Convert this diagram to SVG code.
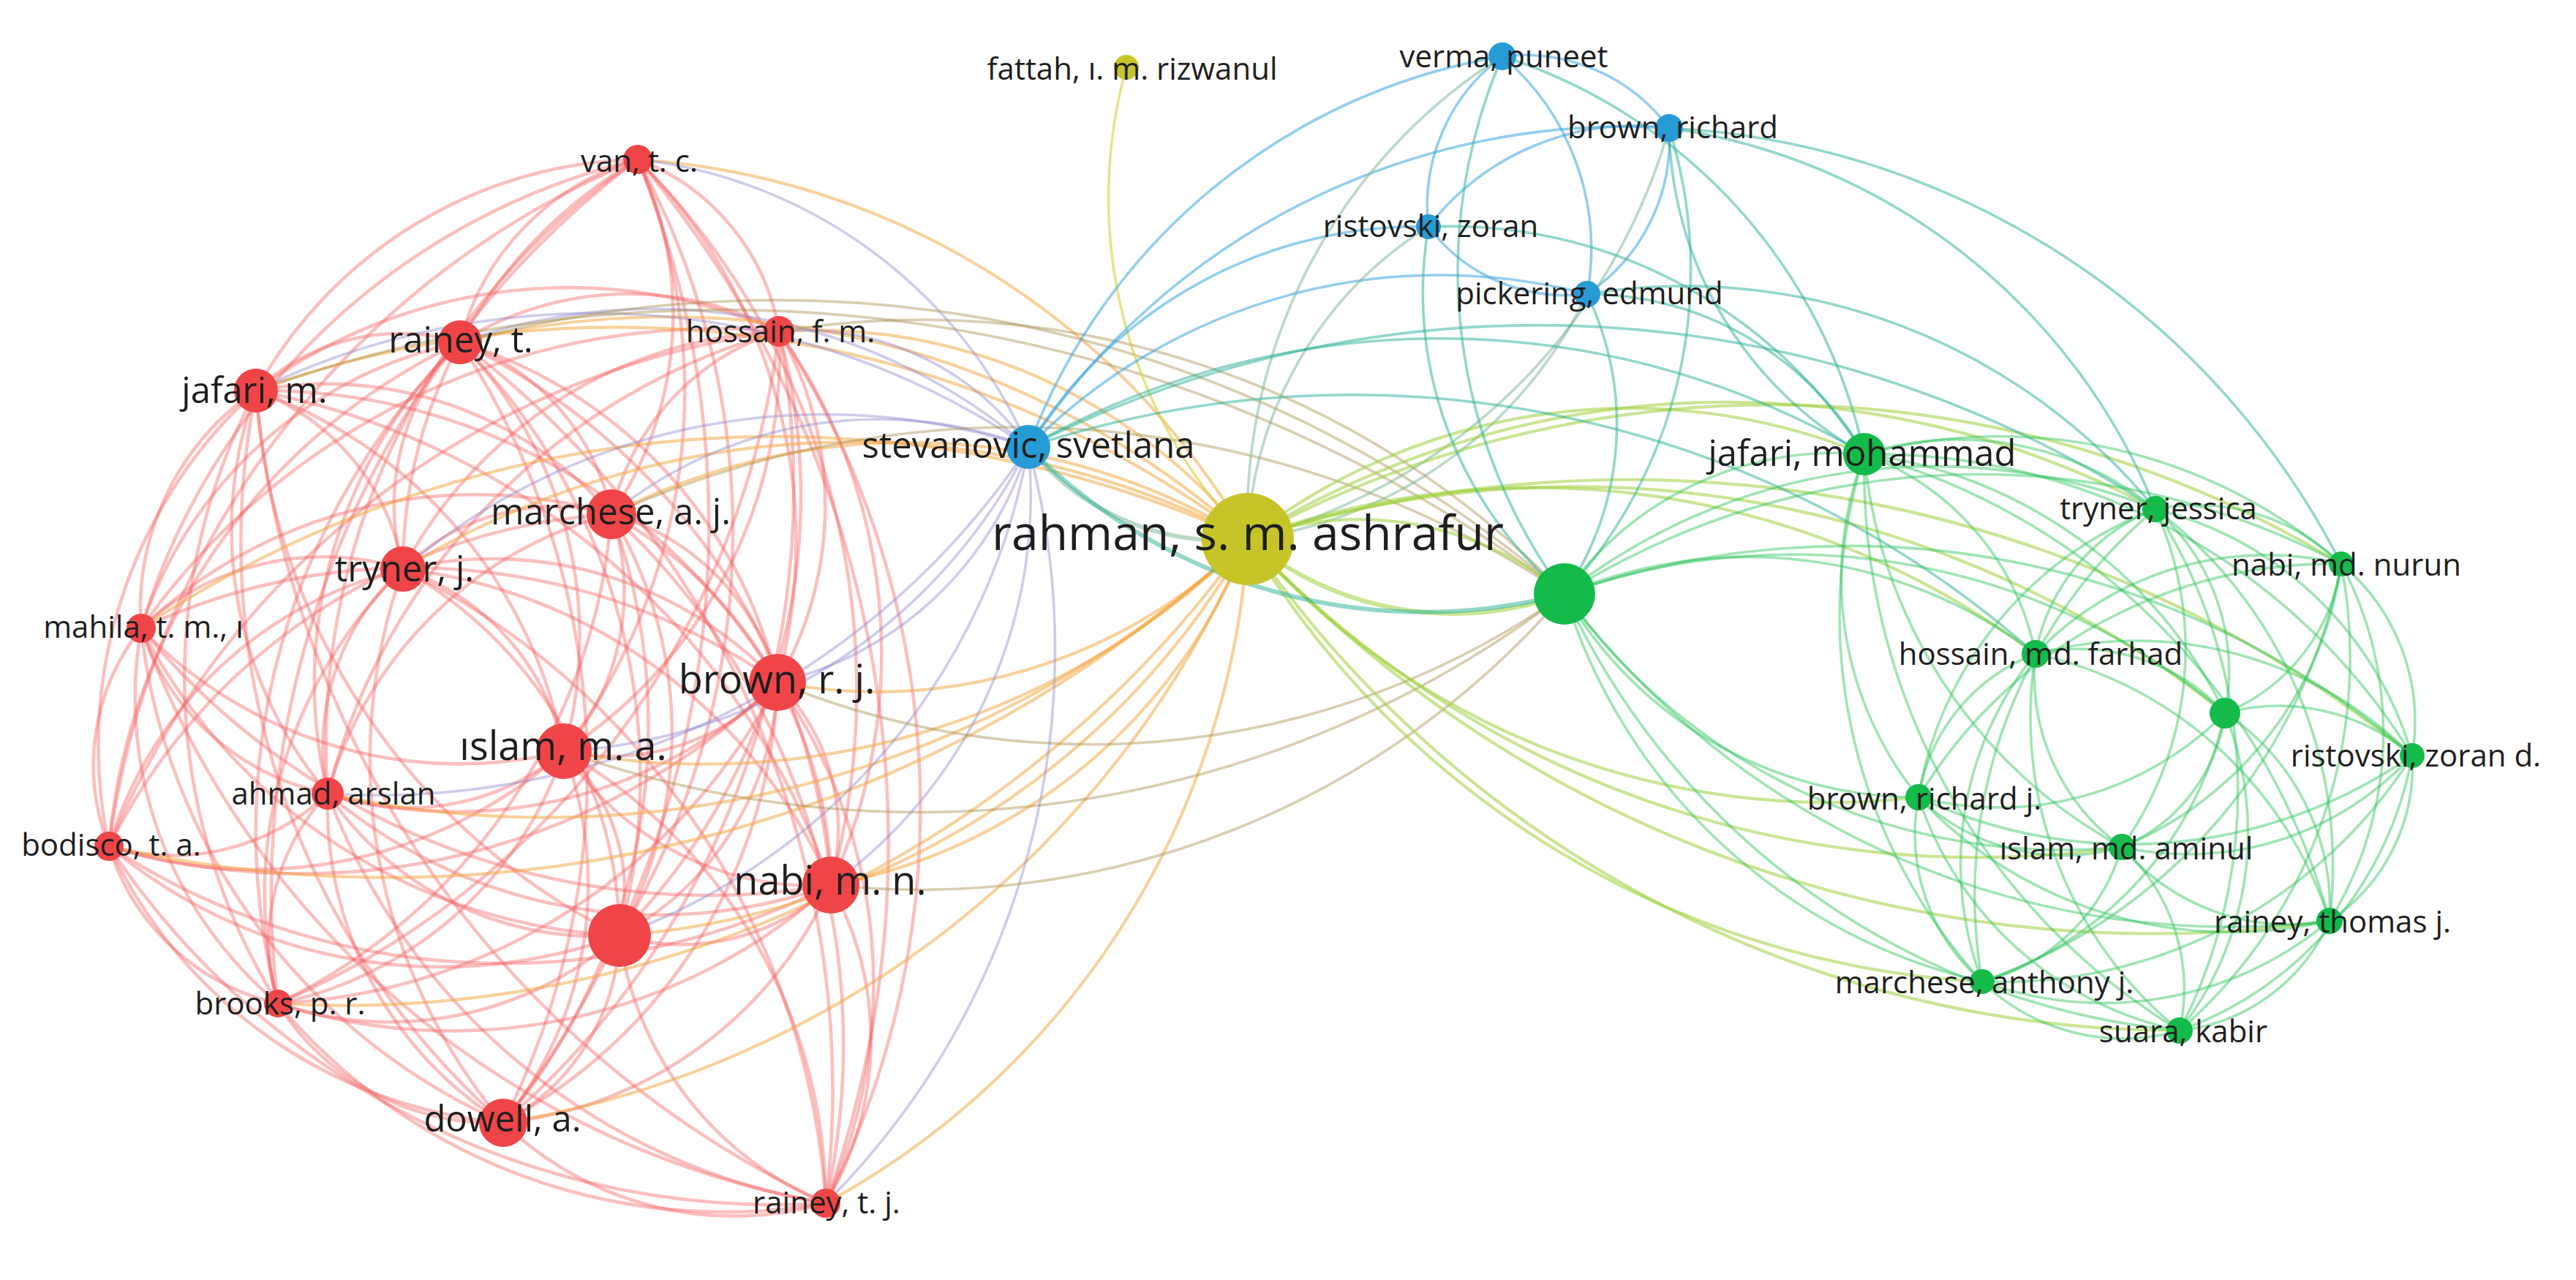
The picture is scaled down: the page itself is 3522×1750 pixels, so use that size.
<svg xmlns="http://www.w3.org/2000/svg" width="3522" height="1750" viewBox="0 0 3522 1750">
<style>
.e{fill:none;stroke-width:3.6;stroke-linecap:round}
.rr{stroke:#f65e5e;stroke-opacity:.4;stroke-width:4.6}
.ry{stroke:#f3a33a;stroke-opacity:.5;stroke-width:4.2}
.rb{stroke:#8c86cc;stroke-opacity:.42}
.rg{stroke:#a58a45;stroke-opacity:.42}
.yy{stroke:#d4d43a;stroke-opacity:.6}
.yb{stroke:#78b490;stroke-opacity:.5}
.yg{stroke:#9fd03c;stroke-opacity:.55;stroke-width:4.2}
.bb{stroke:#3aa5e0;stroke-opacity:.55}
.bg{stroke:#28b096;stroke-opacity:.5}
.gg{stroke:#2cc45a;stroke-opacity:.45}
.thick{stroke-width:6}
.nr{fill:#f04548}
.ny{fill:#c5c52a}
.nb{fill:#279bd6}
.ng{fill:#14bb4b}
text{font-family:"Open Sans","Noto Sans","DejaVu Sans",sans-serif;fill:#1e1e1e;text-anchor:middle}
.s{font-size:42px}
.m{font-size:49px}
.l{font-size:54px}
.xl{font-size:66px}
</style>
<rect width="3522" height="1750" fill="#ffffff"/>
<g id="connectors">
<g id="red-red">
<path class="e rr" d="M629 468 A349 349 0 0 1 872 218"/>
<path class="e rr" d="M872 218 A304 304 0 0 1 1065 453"/>
<path class="e rr" d="M350 534 A610 610 0 0 1 872 218"/>
<path class="e rr" d="M872 218 A486 486 0 0 1 836 703"/>
<path class="e rr" d="M551 778 A645 645 0 0 1 872 218"/>
<path class="e rr" d="M193 859 A934 934 0 0 1 872 218"/>
<path class="e rr" d="M872 218 A740 740 0 0 1 1063 933"/>
<path class="e rr" d="M872 218 A815 815 0 0 1 771 1027"/>
<path class="e rr" d="M448 1085 A965 965 0 0 1 872 218"/>
<path class="e rr" d="M149 1157 A1185 1185 0 0 1 872 218"/>
<path class="e rr" d="M872 218 A1027 1027 0 0 1 1136 1210"/>
<path class="e rr" d="M872 218 A1061 1061 0 0 1 847 1279"/>
<path class="e rr" d="M380 1372 A1254 1254 0 0 1 872 218"/>
<path class="e rr" d="M872 218 A1330 1330 0 0 1 688 1535"/>
<path class="e rr" d="M872 218 A1450 1450 0 0 1 1129 1645"/>
<path class="e rr" d="M629 468 A436 436 0 0 1 1065 453"/>
<path class="e rr" d="M350 534 A287 287 0 0 1 629 468"/>
<path class="e rr" d="M629 468 A313 313 0 0 1 836 703"/>
<path class="e rr" d="M551 778 A320 320 0 0 1 629 468"/>
<path class="e rr" d="M193 859 A586 586 0 0 1 629 468"/>
<path class="e rr" d="M629 468 A636 636 0 0 1 1063 933"/>
<path class="e rr" d="M629 468 A577 577 0 0 1 771 1027"/>
<path class="e rr" d="M448 1085 A643 643 0 0 1 629 468"/>
<path class="e rr" d="M149 1157 A840 840 0 0 1 629 468"/>
<path class="e rr" d="M629 468 A899 899 0 0 1 1136 1210"/>
<path class="e rr" d="M629 468 A840 840 0 0 1 847 1279"/>
<path class="e rr" d="M380 1372 A938 938 0 0 1 629 468"/>
<path class="e rr" d="M629 468 A1069 1069 0 0 1 688 1535"/>
<path class="e rr" d="M629 468 A1279 1279 0 0 1 1129 1645"/>
<path class="e rr" d="M350 534 A720 720 0 0 1 1065 453"/>
<path class="e rr" d="M836 703 A339 339 0 0 1 1065 453"/>
<path class="e rr" d="M551 778 A608 608 0 0 1 1065 453"/>
<path class="e rr" d="M193 859 A962 962 0 0 1 1065 453"/>
<path class="e rr" d="M1065 453 A480 480 0 0 1 1063 933"/>
<path class="e rr" d="M1065 453 A645 645 0 0 1 771 1027"/>
<path class="e rr" d="M448 1085 A883 883 0 0 1 1065 453"/>
<path class="e rr" d="M149 1157 A1155 1155 0 0 1 1065 453"/>
<path class="e rr" d="M1065 453 A760 760 0 0 1 1136 1210"/>
<path class="e rr" d="M1065 453 A854 854 0 0 1 847 1279"/>
<path class="e rr" d="M1065 453 A1146 1146 0 0 1 380 1372"/>
<path class="e rr" d="M1065 453 A1146 1146 0 0 1 688 1535"/>
<path class="e rr" d="M1065 453 A1194 1194 0 0 1 1129 1645"/>
<path class="e rr" d="M350 534 A515 515 0 0 1 836 703"/>
<path class="e rr" d="M350 534 A316 316 0 0 1 551 778"/>
<path class="e rr" d="M193 859 A361 361 0 0 1 350 534"/>
<path class="e rr" d="M350 534 A817 817 0 0 1 1063 933"/>
<path class="e rr" d="M350 534 A648 648 0 0 1 771 1027"/>
<path class="e rr" d="M448 1085 A560 560 0 0 1 350 534"/>
<path class="e rr" d="M149 1157 A655 655 0 0 1 350 534"/>
<path class="e rr" d="M350 534 A1037 1037 0 0 1 1136 1210"/>
<path class="e rr" d="M847 1279 A895 895 0 0 1 350 534"/>
<path class="e rr" d="M380 1372 A839 839 0 0 1 350 534"/>
<path class="e rr" d="M688 1535 A1057 1057 0 0 1 350 534"/>
<path class="e rr" d="M1129 1645 A1357 1357 0 0 1 350 534"/>
<path class="e rr" d="M551 778 A295 295 0 0 1 836 703"/>
<path class="e rr" d="M193 859 A662 662 0 0 1 836 703"/>
<path class="e rr" d="M836 703 A323 323 0 0 1 1063 933"/>
<path class="e rr" d="M836 703 A330 330 0 0 1 771 1027"/>
<path class="e rr" d="M448 1085 A545 545 0 0 1 836 703"/>
<path class="e rr" d="M149 1157 A823 823 0 0 1 836 703"/>
<path class="e rr" d="M836 703 A590 590 0 0 1 1136 1210"/>
<path class="e rr" d="M836 703 A576 576 0 0 1 847 1279"/>
<path class="e rr" d="M836 703 A810 810 0 0 1 380 1372"/>
<path class="e rr" d="M836 703 A845 845 0 0 1 688 1535"/>
<path class="e rr" d="M836 703 A987 987 0 0 1 1129 1645"/>
<path class="e rr" d="M193 859 A367 367 0 0 1 551 778"/>
<path class="e rr" d="M551 778 A535 535 0 0 1 1063 933"/>
<path class="e rr" d="M551 778 A332 332 0 0 1 771 1027"/>
<path class="e rr" d="M448 1085 A324 324 0 0 1 551 778"/>
<path class="e rr" d="M149 1157 A552 552 0 0 1 551 778"/>
<path class="e rr" d="M551 778 A727 727 0 0 1 1136 1210"/>
<path class="e rr" d="M551 778 A582 582 0 0 1 847 1279"/>
<path class="e rr" d="M380 1372 A618 618 0 0 1 551 778"/>
<path class="e rr" d="M688 1535 A770 770 0 0 1 551 778"/>
<path class="e rr" d="M551 778 A1042 1042 0 0 1 1129 1645"/>
<path class="e rr" d="M193 859 A873 873 0 0 1 1063 933"/>
<path class="e rr" d="M771 1027 A602 602 0 0 1 193 859"/>
<path class="e rr" d="M448 1085 A341 341 0 0 1 193 859"/>
<path class="e rr" d="M149 1157 A301 301 0 0 1 193 859"/>
<path class="e rr" d="M1136 1210 A1006 1006 0 0 1 193 859"/>
<path class="e rr" d="M847 1279 A777 777 0 0 1 193 859"/>
<path class="e rr" d="M380 1372 A546 546 0 0 1 193 859"/>
<path class="e rr" d="M688 1535 A838 838 0 0 1 193 859"/>
<path class="e rr" d="M1129 1645 A1222 1222 0 0 1 193 859"/>
<path class="e rr" d="M1063 933 A307 307 0 0 1 771 1027"/>
<path class="e rr" d="M1063 933 A634 634 0 0 1 448 1085"/>
<path class="e rr" d="M1063 933 A941 941 0 0 1 149 1157"/>
<path class="e rr" d="M1063 933 A286 286 0 0 1 1136 1210"/>
<path class="e rr" d="M1063 933 A408 408 0 0 1 847 1279"/>
<path class="e rr" d="M1063 933 A812 812 0 0 1 380 1372"/>
<path class="e rr" d="M1063 933 A709 709 0 0 1 688 1535"/>
<path class="e rr" d="M1063 933 A715 715 0 0 1 1129 1645"/>
<path class="e rr" d="M771 1027 A328 328 0 0 1 448 1085"/>
<path class="e rr" d="M771 1027 A635 635 0 0 1 149 1157"/>
<path class="e rr" d="M1136 1210 A408 408 0 0 1 771 1027"/>
<path class="e rr" d="M771 1027 A263 263 0 0 1 847 1279"/>
<path class="e rr" d="M771 1027 A521 521 0 0 1 380 1372"/>
<path class="e rr" d="M771 1027 A515 515 0 0 1 688 1535"/>
<path class="e rr" d="M771 1027 A714 714 0 0 1 1129 1645"/>
<path class="e rr" d="M448 1085 A308 308 0 0 1 149 1157"/>
<path class="e rr" d="M1136 1210 A700 700 0 0 1 448 1085"/>
<path class="e rr" d="M847 1279 A444 444 0 0 1 448 1085"/>
<path class="e rr" d="M380 1372 A295 295 0 0 1 448 1085"/>
<path class="e rr" d="M688 1535 A510 510 0 0 1 448 1085"/>
<path class="e rr" d="M1129 1645 A882 882 0 0 1 448 1085"/>
<path class="e rr" d="M1136 1210 A988 988 0 0 1 149 1157"/>
<path class="e rr" d="M847 1279 A710 710 0 0 1 149 1157"/>
<path class="e rr" d="M380 1372 A316 316 0 0 1 149 1157"/>
<path class="e rr" d="M688 1535 A658 658 0 0 1 149 1157"/>
<path class="e rr" d="M1129 1645 A1095 1095 0 0 1 149 1157"/>
<path class="e rr" d="M1136 1210 A297 297 0 0 1 847 1279"/>
<path class="e rr" d="M1136 1210 A773 773 0 0 1 380 1372"/>
<path class="e rr" d="M1136 1210 A553 553 0 0 1 688 1535"/>
<path class="e rr" d="M1136 1210 A435 435 0 0 1 1129 1645"/>
<path class="e rr" d="M847 1279 A476 476 0 0 1 380 1372"/>
<path class="e rr" d="M847 1279 A301 301 0 0 1 688 1535"/>
<path class="e rr" d="M1129 1645 A462 462 0 0 1 847 1279"/>
<path class="e rr" d="M688 1535 A348 348 0 0 1 380 1372"/>
<path class="e rr" d="M1129 1645 A797 797 0 0 1 380 1372"/>
<path class="e rr" d="M1129 1645 A454 454 0 0 1 688 1535"/>
</g>
<g id="red-yellow">
<path class="e ry" d="M872 218 A1042 1042 0 0 1 1706 737"/>
<path class="e ry" d="M629 468 A1185 1185 0 0 1 1706 737"/>
<path class="e ry" d="M1065 453 A755 755 0 0 1 1706 737"/>
<path class="e ry" d="M350 534 A1437 1437 0 0 1 1706 737"/>
<path class="e ry" d="M836 703 A884 884 0 0 1 1706 737"/>
<path class="e ry" d="M551 778 A1171 1171 0 0 1 1706 737"/>
<path class="e ry" d="M193 859 A1562 1562 0 0 1 1706 737"/>
<path class="e ry" d="M1706 737 A721 721 0 0 1 1063 933"/>
<path class="e ry" d="M1706 737 A1051 1051 0 0 1 771 1027"/>
<path class="e ry" d="M1706 737 A1397 1397 0 0 1 448 1085"/>
<path class="e ry" d="M1706 737 A1725 1725 0 0 1 149 1157"/>
<path class="e ry" d="M1706 737 A760 760 0 0 1 1136 1210"/>
<path class="e ry" d="M1706 737 A1076 1076 0 0 1 847 1279"/>
<path class="e ry" d="M1706 737 A1518 1518 0 0 1 380 1372"/>
<path class="e ry" d="M1706 737 A1335 1335 0 0 1 688 1535"/>
<path class="e ry" d="M1706 737 A1111 1111 0 0 1 1129 1645"/>
</g>
<g id="red-blue">
<path class="e rb" d="M872 218 A663 663 0 0 1 1406 611"/>
<path class="e rb" d="M629 468 A790 790 0 0 1 1406 611"/>
<path class="e rb" d="M1065 453 A376 376 0 0 1 1406 611"/>
<path class="e rb" d="M350 534 A1059 1059 0 0 1 1406 611"/>
<path class="e rb" d="M836 703 A577 577 0 0 1 1406 611"/>
<path class="e rb" d="M551 778 A892 892 0 0 1 1406 611"/>
<path class="e rb" d="M1406 611 A471 471 0 0 1 1063 933"/>
<path class="e rb" d="M1406 611 A759 759 0 0 1 771 1027"/>
<path class="e rb" d="M1406 611 A1069 1069 0 0 1 448 1085"/>
<path class="e rb" d="M1406 611 A657 657 0 0 1 1136 1210"/>
<path class="e rb" d="M1406 611 A871 871 0 0 1 847 1279"/>
<path class="e rb" d="M1406 611 A1070 1070 0 0 1 1129 1645"/>
</g>
<g id="red-green">
<path class="e rg" d="M629 468 A1648 1648 0 0 1 2139 812"/>
<path class="e rg" d="M350 534 A1900 1900 0 0 1 2139 812"/>
<path class="e rg" d="M1065 453 A1218 1218 0 0 1 2139 812"/>
<path class="e rg" d="M836 703 A1347 1347 0 0 1 2139 812"/>
<path class="e rg" d="M2139 812 A1124 1124 0 0 1 1063 933"/>
<path class="e rg" d="M2139 812 A1454 1454 0 0 1 771 1027"/>
<path class="e rg" d="M2139 812 A1162 1162 0 0 1 1136 1210"/>
</g>
<g id="yellow-yellow">
<path class="e yy" d="M1706 737 A666 666 0 0 1 1540 92"/>
</g>
<g id="blue-blue">
<path class="e bb" d="M2054 77 A248 248 0 0 1 2282 175"/>
<path class="e bb" d="M1953 310 A254 254 0 0 1 2054 77"/>
<path class="e bb" d="M2054 77 A345 345 0 0 1 2170 402"/>
<path class="e bb" d="M1406 611 A840 840 0 0 1 2054 77"/>
<path class="e bb" d="M1953 310 A356 356 0 0 1 2282 175"/>
<path class="e bb" d="M2282 175 A253 253 0 0 1 2170 402"/>
<path class="e bb" d="M1406 611 A978 978 0 0 1 2282 175"/>
<path class="e bb" d="M2170 402 A236 236 0 0 1 1953 310"/>
<path class="e bb" d="M1406 611 A624 624 0 0 1 1953 310"/>
<path class="e bb" d="M1406 611 A792 792 0 0 1 2170 402"/>
</g>
<g id="yellow-blue">
<path class="e yb" d="M1706 737 A746 746 0 0 1 2054 77"/>
<path class="e yb" d="M2282 175 A805 805 0 0 1 1706 737"/>
<path class="e yb" d="M1706 737 A526 526 0 0 1 1953 310"/>
<path class="e yb" d="M2170 402 A598 598 0 0 1 1706 737"/>
<path class="e yb thick" d="M1706 737 A340 340 0 0 1 1406 611"/>
</g>
<g id="yellow-green">
<path class="e yg thick" d="M2139 812 A440 440 0 0 1 1706 737"/>
<path class="e yg" d="M1706 737 A440 440 0 0 1 2139 812"/>
<path class="e yg" d="M1706 737 A851 851 0 0 1 2549 621"/>
<path class="e yg" d="M1706 737 A1243 1243 0 0 1 2947 696"/>
<path class="e yg" d="M1706 737 A1496 1496 0 0 1 3201 771"/>
<path class="e yg" d="M1706 737 A1140 1140 0 0 1 2783 894"/>
<path class="e yg" d="M1706 737 A1431 1431 0 0 1 3042 975"/>
<path class="e yg" d="M1706 737 A1710 1710 0 0 1 3298 1033"/>
<path class="e yg" d="M2623 1090 A1058 1058 0 0 1 1706 737"/>
<path class="e yg" d="M2901 1158 A1363 1363 0 0 1 1706 737"/>
<path class="e yg" d="M3185 1259 A1688 1688 0 0 1 1706 737"/>
<path class="e yg" d="M2710 1342 A1246 1246 0 0 1 1706 737"/>
<path class="e yg" d="M2980 1409 A1543 1543 0 0 1 1706 737"/>
</g>
<g id="blue-green">
<path class="e bg" d="M1406 611 A1143 1143 0 0 1 2549 621"/>
<path class="e bg" d="M1406 611 A1543 1543 0 0 1 2947 696"/>
<path class="e bg" d="M1406 611 A1410 1410 0 0 1 2783 894"/>
<path class="e bg thick" d="M2139 812 A760 760 0 0 1 1406 611"/>
<path class="e bg" d="M2139 812 A740 740 0 0 1 2054 77"/>
<path class="e bg" d="M2282 175 A653 653 0 0 1 2139 812"/>
<path class="e bg" d="M2139 812 A535 535 0 0 1 1953 310"/>
<path class="e bg" d="M2170 402 A411 411 0 0 1 2139 812"/>
<path class="e bg" d="M2549 621 A520 520 0 0 1 2282 175"/>
<path class="e bg" d="M2282 175 A845 845 0 0 1 2947 696"/>
<path class="e bg" d="M2282 175 A1095 1095 0 0 1 3201 771"/>
<path class="e bg" d="M2170 402 A438 438 0 0 1 2549 621"/>
<path class="e bg" d="M2170 402 A831 831 0 0 1 2947 696"/>
<path class="e bg" d="M2054 77 A735 735 0 0 1 2549 621"/>
<path class="e bg" d="M1953 310 A672 672 0 0 1 2549 621"/>
</g>
<g id="green-green">
<path class="e gg" d="M2139 812 A452 452 0 0 1 2549 621"/>
<path class="e gg" d="M2139 812 A816 816 0 0 1 2947 696"/>
<path class="e gg" d="M2139 812 A1063 1063 0 0 1 3201 771"/>
<path class="e gg" d="M2139 812 A649 649 0 0 1 2783 894"/>
<path class="e gg" d="M2139 812 A918 918 0 0 1 3042 975"/>
<path class="e gg" d="M2139 812 A1180 1180 0 0 1 3298 1033"/>
<path class="e gg" d="M2623 1090 A558 558 0 0 1 2139 812"/>
<path class="e gg" d="M2901 1158 A837 837 0 0 1 2139 812"/>
<path class="e gg" d="M3185 1259 A1137 1137 0 0 1 2139 812"/>
<path class="e gg" d="M2710 1342 A779 779 0 0 1 2139 812"/>
<path class="e gg" d="M2980 1409 A1031 1031 0 0 1 2139 812"/>
<path class="e gg" d="M2549 621 A428 428 0 0 1 2947 696"/>
<path class="e gg" d="M2549 621 A712 712 0 0 1 3201 771"/>
<path class="e gg" d="M2549 621 A367 367 0 0 1 2783 894"/>
<path class="e gg" d="M2549 621 A635 635 0 0 1 3042 975"/>
<path class="e gg" d="M2549 621 A864 864 0 0 1 3298 1033"/>
<path class="e gg" d="M2623 1090 A475 475 0 0 1 2549 621"/>
<path class="e gg" d="M2901 1158 A678 678 0 0 1 2549 621"/>
<path class="e gg" d="M2549 621 A900 900 0 0 1 3185 1259"/>
<path class="e gg" d="M2710 1342 A739 739 0 0 1 2549 621"/>
<path class="e gg" d="M2980 1409 A898 898 0 0 1 2549 621"/>
<path class="e gg" d="M2947 696 A284 284 0 0 1 3201 771"/>
<path class="e gg" d="M2783 894 A264 264 0 0 1 2947 696"/>
<path class="e gg" d="M2947 696 A295 295 0 0 1 3042 975"/>
<path class="e gg" d="M2947 696 A486 486 0 0 1 3298 1033"/>
<path class="e gg" d="M2623 1090 A510 510 0 0 1 2947 696"/>
<path class="e gg" d="M2947 696 A464 464 0 0 1 2901 1158"/>
<path class="e gg" d="M2947 696 A611 611 0 0 1 3185 1259"/>
<path class="e gg" d="M2710 1342 A688 688 0 0 1 2947 696"/>
<path class="e gg" d="M2947 696 A714 714 0 0 1 2980 1409"/>
<path class="e gg" d="M2783 894 A436 436 0 0 1 3201 771"/>
<path class="e gg" d="M3201 771 A259 259 0 0 1 3042 975"/>
<path class="e gg" d="M3201 771 A280 280 0 0 1 3298 1033"/>
<path class="e gg" d="M2623 1090 A660 660 0 0 1 3201 771"/>
<path class="e gg" d="M3201 771 A490 490 0 0 1 2901 1158"/>
<path class="e gg" d="M3201 771 A488 488 0 0 1 3185 1259"/>
<path class="e gg" d="M3201 771 A753 753 0 0 1 2710 1342"/>
<path class="e gg" d="M3201 771 A675 675 0 0 1 2980 1409"/>
<path class="e gg" d="M2783 894 A271 271 0 0 1 3042 975"/>
<path class="e gg" d="M2783 894 A533 533 0 0 1 3298 1033"/>
<path class="e gg" d="M2623 1090 A253 253 0 0 1 2783 894"/>
<path class="e gg" d="M2901 1158 A289 289 0 0 1 2783 894"/>
<path class="e gg" d="M2783 894 A543 543 0 0 1 3185 1259"/>
<path class="e gg" d="M2710 1342 A454 454 0 0 1 2783 894"/>
<path class="e gg" d="M2980 1409 A551 551 0 0 1 2783 894"/>
<path class="e gg" d="M3042 975 A279 279 0 0 1 3298 1033"/>
<path class="e gg" d="M3042 975 A435 435 0 0 1 2623 1090"/>
<path class="e gg" d="M3042 975 A231 231 0 0 1 2901 1158"/>
<path class="e gg" d="M3042 975 A318 318 0 0 1 3185 1259"/>
<path class="e gg" d="M3042 975 A495 495 0 0 1 2710 1342"/>
<path class="e gg" d="M3042 975 A438 438 0 0 1 2980 1409"/>
<path class="e gg" d="M3298 1033 A678 678 0 0 1 2623 1090"/>
<path class="e gg" d="M3298 1033 A416 416 0 0 1 2901 1158"/>
<path class="e gg" d="M3298 1033 A253 253 0 0 1 3185 1259"/>
<path class="e gg" d="M3298 1033 A664 664 0 0 1 2710 1342"/>
<path class="e gg" d="M3298 1033 A492 492 0 0 1 2980 1409"/>
<path class="e gg" d="M2901 1158 A286 286 0 0 1 2623 1090"/>
<path class="e gg" d="M3185 1259 A588 588 0 0 1 2623 1090"/>
<path class="e gg" d="M2710 1342 A267 267 0 0 1 2623 1090"/>
<path class="e gg" d="M2980 1409 A479 479 0 0 1 2623 1090"/>
<path class="e gg" d="M3185 1259 A301 301 0 0 1 2901 1158"/>
<path class="e gg" d="M2901 1158 A265 265 0 0 1 2710 1342"/>
<path class="e gg" d="M2901 1158 A263 263 0 0 1 2980 1409"/>
<path class="e gg" d="M3185 1259 A482 482 0 0 1 2710 1342"/>
<path class="e gg" d="M3185 1259 A254 254 0 0 1 2980 1409"/>
<path class="e gg" d="M2980 1409 A278 278 0 0 1 2710 1342"/>
</g>
</g>
<g id="node-van-t-c"><circle class="nr" cx="872" cy="218" r="20"/><text class="s" x="874" y="235">van, t. c.</text></g>
<g id="node-rainey-t"><circle class="nr" cx="629" cy="468" r="30"/><text class="m" x="630" y="482">rainey, t.</text></g>
<g id="node-hossain-f-m"><circle class="nr" cx="1065" cy="453" r="21"/><text class="s" x="1067" y="468">hossain, f. m.</text></g>
<g id="node-jafari-m"><circle class="nr" cx="350" cy="534" r="30"/><text class="m" x="348" y="551">jafari, m.</text></g>
<g id="node-marchese-a-j"><circle class="nr" cx="836" cy="703" r="34"/><text class="m" x="835" y="717">marchese, a. j.</text></g>
<g id="node-tryner-j"><circle class="nr" cx="551" cy="778" r="31"/><text class="m" x="553" y="795">tryner, j.</text></g>
<g id="node-mahila"><circle class="nr" cx="193" cy="859" r="20"/><text class="s" x="196" y="872">mahila, t. m., ı</text></g>
<g id="node-brown-r-j"><circle class="nr" cx="1063" cy="933" r="39"/><text class="l" x="1062" y="948">brown, r. j.</text></g>
<g id="node-islam-m-a"><circle class="nr" cx="771" cy="1027" r="38"/><text class="l" x="770" y="1039">ıslam, m. a.</text></g>
<g id="node-ahmad-arslan"><circle class="nr" cx="448" cy="1085" r="22"/><text class="s" x="456" y="1100">ahmad, arslan</text></g>
<g id="node-bodisco-t-a"><circle class="nr" cx="149" cy="1157" r="20"/><text class="s" x="152" y="1170">bodisco, t. a.</text></g>
<g id="node-nabi-m-n"><circle class="nr" cx="1136" cy="1210" r="39"/><text class="l" x="1135" y="1223">nabi, m. n.</text></g>
<g id="node-red-unlabeled"><circle class="nr" cx="847" cy="1279" r="43"/></g>
<g id="node-brooks-p-r"><circle class="nr" cx="380" cy="1372" r="19"/><text class="s" x="383" y="1387">brooks, p. r.</text></g>
<g id="node-dowell-a"><circle class="nr" cx="688" cy="1535" r="33"/><text class="m" x="687" y="1547">dowell, a.</text></g>
<g id="node-rainey-t-j"><circle class="nr" cx="1129" cy="1645" r="20"/><text class="s" x="1130" y="1659">rainey, t. j.</text></g>
<g id="node-fattah"><circle class="ny" cx="1540" cy="92" r="17"/><text class="s" x="1548" y="109">fattah, ı. m. rizwanul</text></g>
<g id="node-rahman"><circle class="ny" cx="1706" cy="737" r="63"/><text class="xl" x="1706" y="752">rahman, s. m. ashrafur</text></g>
<g id="node-verma-puneet"><circle class="nb" cx="2054" cy="77" r="19"/><text class="s" x="2056" y="92">verma, puneet</text></g>
<g id="node-brown-richard"><circle class="nb" cx="2282" cy="175" r="19"/><text class="s" x="2287" y="189">brown, richard</text></g>
<g id="node-ristovski-zoran"><circle class="nb" cx="1953" cy="310" r="17"/><text class="s" x="1956" y="324">ristovski, zoran</text></g>
<g id="node-pickering-edmund"><circle class="nb" cx="2170" cy="402" r="18"/><text class="s" x="2173" y="416">pickering, edmund</text></g>
<g id="node-stevanovic"><circle class="nb" cx="1406" cy="611" r="30"/><text class="m" x="1406" y="626">stevanovic, svetlana</text></g>
<g id="node-green-unlabeled-big"><circle class="ng" cx="2139" cy="812" r="42"/></g>
<g id="node-jafari-mohammad"><circle class="ng" cx="2549" cy="621" r="29"/><text class="m" x="2546" y="637">jafari, mohammad</text></g>
<g id="node-tryner-jessica"><circle class="ng" cx="2947" cy="696" r="18"/><text class="s" x="2951" y="710">tryner, jessica</text></g>
<g id="node-nabi-md-nurun"><circle class="ng" cx="3201" cy="771" r="17"/><text class="s" x="3208" y="787">nabi, md. nurun</text></g>
<g id="node-hossain-md-farhad"><circle class="ng" cx="2783" cy="894" r="19"/><text class="s" x="2790" y="909">hossain, md. farhad</text></g>
<g id="node-green-unlabeled"><circle class="ng" cx="3042" cy="975" r="21"/></g>
<g id="node-ristovski-zoran-d"><circle class="ng" cx="3298" cy="1033" r="17"/><text class="s" x="3303" y="1048">ristovski, zoran d.</text></g>
<g id="node-brown-richard-j"><circle class="ng" cx="2623" cy="1090" r="18"/><text class="s" x="2631" y="1107">brown, richard j.</text></g>
<g id="node-islam-md-aminul"><circle class="ng" cx="2901" cy="1158" r="18"/><text class="s" x="2907" y="1175">ıslam, md. aminul</text></g>
<g id="node-rainey-thomas-j"><circle class="ng" cx="3185" cy="1259" r="18"/><text class="s" x="3189" y="1275">rainey, thomas j.</text></g>
<g id="node-marchese-anthony-j"><circle class="ng" cx="2710" cy="1342" r="17"/><text class="s" x="2713" y="1358">marchese, anthony j.</text></g>
<g id="node-suara-kabir"><circle class="ng" cx="2980" cy="1409" r="18"/><text class="s" x="2985" y="1425">suara, kabir</text></g>
</svg>
